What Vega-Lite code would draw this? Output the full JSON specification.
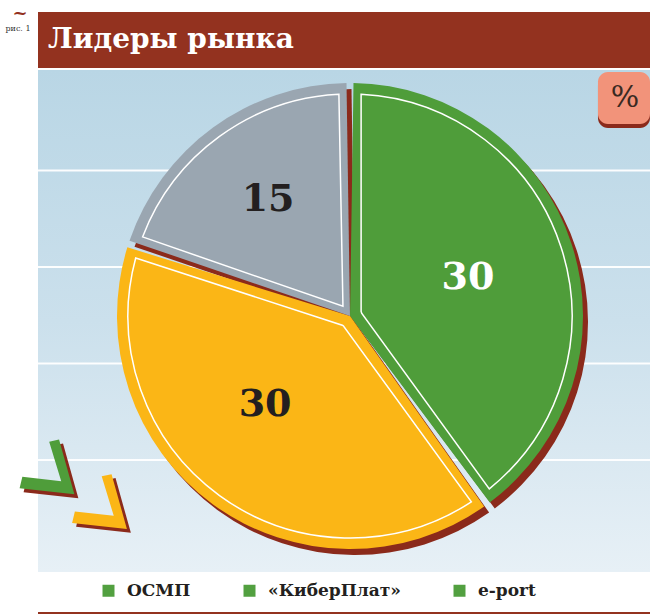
{
  "$schema": "https://vega.github.io/schema/vega-lite/v6.json",
  "width": 612,
  "height": 502,
  "autosize": {"type": "none"},
  "padding": {"left": 38, "top": 70, "right": 4, "bottom": 43},
  "background": "white",
  "config": {"view": {"stroke": null}},
  "data": {"values": [
    {"name": "ОСМП", "value": 30, "i": 1},
    {"name": "«КиберПлат»", "value": 30, "i": 2},
    {"name": "e-port", "value": 15, "i": 3}
  ]},
  "layer": [
    {
      "data": {"values": [{}]},
      "mark": {"type": "rect",
        "fill": {"gradient": "linear", "x1": 0, "y1": 0, "x2": 0, "y2": 1,
          "stops": [{"offset": 0, "color": "#b9d6e5"}, {"offset": 0.5, "color": "#cbe0ec"}, {"offset": 1, "color": "#e7f0f6"}]}},
      "encoding": {
        "x": {"datum": 0, "type": "quantitative", "scale": {"domain": [0, 1], "zero": false, "nice": false}, "axis": null},
        "x2": {"datum": 1},
        "y": {"datum": -0.04, "type": "quantitative", "scale": {"domain": [-0.04, 5.16], "reverse": true, "zero": false, "nice": false}, "axis": null},
        "y2": {"datum": 5.16}
      }
    },
    {
      "data": {"values": [{"s": 1}, {"s": 2}, {"s": 3}, {"s": 4}]},
      "mark": {"type": "rule", "color": "white", "strokeWidth": 2, "opacity": 0.95},
      "encoding": {
        "y": {"field": "s", "type": "quantitative", "scale": {"domain": [-0.04, 5.16], "reverse": true, "zero": false, "nice": false}, "axis": null}
      }
    },
    {
      "data": {"values": [{}]},
      "mark": {"type": "rect", "color": "#93321f"},
      "encoding": {
        "x": {"datum": 0, "type": "quantitative", "scale": {"domain": [0, 1], "zero": false, "nice": false}, "axis": null},
        "x2": {"datum": 1},
        "y": {"datum": -0.641, "type": "quantitative", "scale": {"domain": [-0.04, 5.16], "reverse": true, "zero": false, "nice": false}, "axis": null},
        "y2": {"datum": -0.061}
      }
    },
    {
      "data": {"values": [{"t": "Лидеры рынка"}]},
      "mark": {"type": "text", "color": "white", "font": "DejaVu Serif", "fontWeight": "bold", "fontSize": 28, "align": "left", "baseline": "middle"},
      "encoding": {
        "text": {"field": "t"},
        "x": {"datum": 0.0163, "type": "quantitative", "scale": {"domain": [0, 1], "zero": false, "nice": false}, "axis": null},
        "y": {"datum": -0.351, "type": "quantitative", "scale": {"domain": [-0.04, 5.16], "reverse": true, "zero": false, "nice": false}, "axis": null}
      }
    },
    {
      "data": {"values": [{"t": "~"}]},
      "mark": {"type": "text", "color": "#93321f", "font": "DejaVu Serif", "fontWeight": "bold", "fontSize": 18, "align": "center", "baseline": "middle"},
      "encoding": {
        "text": {"field": "t"},
        "x": {"datum": -0.0294, "type": "quantitative", "scale": {"domain": [0, 1], "zero": false, "nice": false}, "axis": null},
        "y": {"datum": -0.62, "type": "quantitative", "scale": {"domain": [-0.04, 5.16], "reverse": true, "zero": false, "nice": false}, "axis": null}
      }
    },
    {
      "data": {"values": [{"t": "рис. 1"}]},
      "mark": {"type": "text", "color": "#333333", "font": "DejaVu Serif", "fontSize": 8, "align": "center", "baseline": "middle"},
      "encoding": {
        "text": {"field": "t"},
        "x": {"datum": -0.0327, "type": "quantitative", "scale": {"domain": [0, 1], "zero": false, "nice": false}, "axis": null},
        "y": {"datum": -0.465, "type": "quantitative", "scale": {"domain": [-0.04, 5.16], "reverse": true, "zero": false, "nice": false}, "axis": null}
      }
    },
    {
      "data": {"values": [{}]},
      "mark": {"type": "rect", "color": "#8b2a1b", "cornerRadius": 10},
      "encoding": {
        "x": {"datum": 0.915, "type": "quantitative", "scale": {"domain": [0, 1], "zero": false, "nice": false}, "axis": null},
        "x2": {"datum": 1.0},
        "y": {"datum": 0.022, "type": "quantitative", "scale": {"domain": [-0.04, 5.16], "reverse": true, "zero": false, "nice": false}, "axis": null},
        "y2": {"datum": 0.561}
      }
    },
    {
      "data": {"values": [{}]},
      "mark": {"type": "rect", "color": "#f2937a", "cornerRadius": 10},
      "encoding": {
        "x": {"datum": 0.915, "type": "quantitative", "scale": {"domain": [0, 1], "zero": false, "nice": false}, "axis": null},
        "x2": {"datum": 1.0},
        "y": {"datum": -0.019, "type": "quantitative", "scale": {"domain": [-0.04, 5.16], "reverse": true, "zero": false, "nice": false}, "axis": null},
        "y2": {"datum": 0.519}
      }
    },
    {
      "data": {"values": [{"t": "%"}]},
      "mark": {"type": "text", "color": "#3a2a22", "font": "DejaVu Serif", "fontSize": 30, "align": "center", "baseline": "middle"},
      "encoding": {
        "text": {"field": "t"},
        "x": {"datum": 0.959, "type": "quantitative", "scale": {"domain": [0, 1], "zero": false, "nice": false}, "axis": null},
        "y": {"datum": 0.25, "type": "quantitative", "scale": {"domain": [-0.04, 5.16], "reverse": true, "zero": false, "nice": false}, "axis": null}
      }
    },
    {
      "data": {"values": [{}]},
      "mark": {"type": "point", "filled": true, "opacity": 1, "color": "#8b2a1b", "size": 3000, "shape": "M 1 1 L -1 0.78 L -0.9 0.36 L 0.52 0.52 L 0.08 -0.92 L 0.44 -1 Z"},
      "encoding": {
        "x": {"datum": 0.0212, "type": "quantitative", "scale": {"domain": [0, 1], "zero": false, "nice": false}, "axis": null},
        "y": {"datum": 4.113, "type": "quantitative", "scale": {"domain": [-0.04, 5.16], "reverse": true, "zero": false, "nice": false}, "axis": null}
      }
    },
    {
      "data": {"values": [{}]},
      "mark": {"type": "point", "filled": true, "opacity": 1, "color": "#4f9d3a", "size": 3000, "shape": "M 1 1 L -1 0.78 L -0.9 0.36 L 0.52 0.52 L 0.08 -0.92 L 0.44 -1 Z"},
      "encoding": {
        "x": {"datum": 0.0147, "type": "quantitative", "scale": {"domain": [0, 1], "zero": false, "nice": false}, "axis": null},
        "y": {"datum": 4.072, "type": "quantitative", "scale": {"domain": [-0.04, 5.16], "reverse": true, "zero": false, "nice": false}, "axis": null}
      }
    },
    {
      "data": {"values": [{}]},
      "mark": {"type": "point", "filled": true, "opacity": 1, "color": "#8b2a1b", "size": 3000, "shape": "M 1 1 L -1 0.78 L -0.9 0.36 L 0.52 0.52 L 0.08 -0.92 L 0.44 -1 Z"},
      "encoding": {
        "x": {"datum": 0.107, "type": "quantitative", "scale": {"domain": [0, 1], "zero": false, "nice": false}, "axis": null},
        "y": {"datum": 4.471, "type": "quantitative", "scale": {"domain": [-0.04, 5.16], "reverse": true, "zero": false, "nice": false}, "axis": null}
      }
    },
    {
      "data": {"values": [{}]},
      "mark": {"type": "point", "filled": true, "opacity": 1, "color": "#fbb616", "size": 3000, "shape": "M 1 1 L -1 0.78 L -0.9 0.36 L 0.52 0.52 L 0.08 -0.92 L 0.44 -1 Z"},
      "encoding": {
        "x": {"datum": 0.1005, "type": "quantitative", "scale": {"domain": [0, 1], "zero": false, "nice": false}, "axis": null},
        "y": {"datum": 4.43, "type": "quantitative", "scale": {"domain": [-0.04, 5.16], "reverse": true, "zero": false, "nice": false}, "axis": null}
      }
    },
    {
      "data": {"values": [{}]},
      "mark": {"type": "rule", "color": "#93321f", "strokeWidth": 2},
      "encoding": {
        "y": {"datum": 5.585, "type": "quantitative", "scale": {"domain": [-0.04, 5.16], "reverse": true, "zero": false, "nice": false}, "axis": null}
      }
    },
    {
      "data": {"values": [{"label": "ОСМП"}, {"label": "«КиберПлат»"}, {"label": "e-port"}]},
      "mark": {"type": "point", "filled": true, "opacity": 1, "color": "#52a040", "size": 100},
      "encoding": {
        "x": {"datum": 0.75, "type": "quantitative", "scale": {"domain": [0, 1], "zero": false, "nice": false}, "axis": null},
        "y": {"datum": 2.5, "type": "quantitative", "scale": {"domain": [-0.04, 5.16], "reverse": true, "zero": false, "nice": false}, "axis": null},
        "shape": {
          "field": "label", "type": "nominal", "sort": null,
          "scale": {"domain": ["ОСМП", "«КиберПлат»", "e-port"], "range": ["square", "square", "square"]},
          "legend": {
            "orient": "none", "legendX": 62, "legendY": 512, "direction": "horizontal", "title": null,
            "symbolType": "square", "symbolSize": 144, "symbolFillColor": "#52a040", "symbolStrokeColor": "#8cc67a", "symbolStrokeWidth": 1,
            "labelFont": "DejaVu Serif", "labelFontWeight": "bold", "labelFontSize": 17, "labelColor": "#231f20",
            "labelOffset": 10, "columnPadding": 50
          }
        }
      }
    },
    {
      "mark": {"type": "arc", "outerRadius": 233, "padAngle": 0.03, "color": "#8b2a1b", "xOffset": 11, "yOffset": 1},
      "encoding": {
        "theta": {"field": "value", "type": "quantitative", "stack": true},
        "detail": {"field": "name"},
        "order": {"field": "i"}
      }
    },
    {
      "mark": {"type": "arc", "outerRadius": 233, "padAngle": 0.03, "xOffset": 6, "yOffset": -5},
      "encoding": {
        "theta": {"field": "value", "type": "quantitative", "stack": true},
        "color": {
          "condition": [
            {"test": "datum.name === 'ОСМП'", "value": "#4f9d3a"},
            {"test": "datum.name === '«КиберПлат»'", "value": "#fbb616"}
          ],
          "value": "#9aa6b1"
        },
        "detail": {"field": "name"},
        "order": {"field": "i"}
      }
    },
    {
      "mark": {"type": "arc", "outerRadius": 222, "innerRadius": 12, "padAngle": 0.1, "filled": false, "color": "white", "stroke": "white", "strokeWidth": 1.5, "xOffset": 6, "yOffset": -5},
      "encoding": {
        "theta": {"field": "value", "type": "quantitative", "stack": true},
        "detail": {"field": "name"},
        "order": {"field": "i"}
      }
    },
    {
      "mark": {"type": "text", "font": "DejaVu Serif", "fontWeight": "bold", "fontSize": 38, "align": "center", "baseline": "middle", "xOffset": 6, "yOffset": -5, "radius": 124, "color": "white"},
      "encoding": {
        "theta": {"field": "value", "type": "quantitative", "stack": true},
        "text": {"condition": {"test": "datum.name === 'ОСМП'", "field": "value", "type": "quantitative"}, "value": ""},
        "detail": {"field": "name"},
        "order": {"field": "i"}
      }
    },
    {
      "mark": {"type": "text", "font": "DejaVu Serif", "fontWeight": "bold", "fontSize": 38, "align": "center", "baseline": "middle", "xOffset": 6, "yOffset": -5, "radius": 124, "dx": -12, "dy": -11, "color": "#231f20"},
      "encoding": {
        "theta": {"field": "value", "type": "quantitative", "stack": true},
        "text": {"condition": {"test": "datum.name === '«КиберПлат»'", "field": "value", "type": "quantitative"}, "value": ""},
        "detail": {"field": "name"},
        "order": {"field": "i"}
      }
    },
    {
      "mark": {"type": "text", "font": "DejaVu Serif", "fontWeight": "bold", "fontSize": 38, "align": "center", "baseline": "middle", "xOffset": 6, "yOffset": -5, "radius": 124, "dx": -9, "dy": -16, "color": "#231f20"},
      "encoding": {
        "theta": {"field": "value", "type": "quantitative", "stack": true},
        "text": {"condition": {"test": "datum.name === 'e-port'", "field": "value", "type": "quantitative"}, "value": ""},
        "detail": {"field": "name"},
        "order": {"field": "i"}
      }
    }
  ]
}
